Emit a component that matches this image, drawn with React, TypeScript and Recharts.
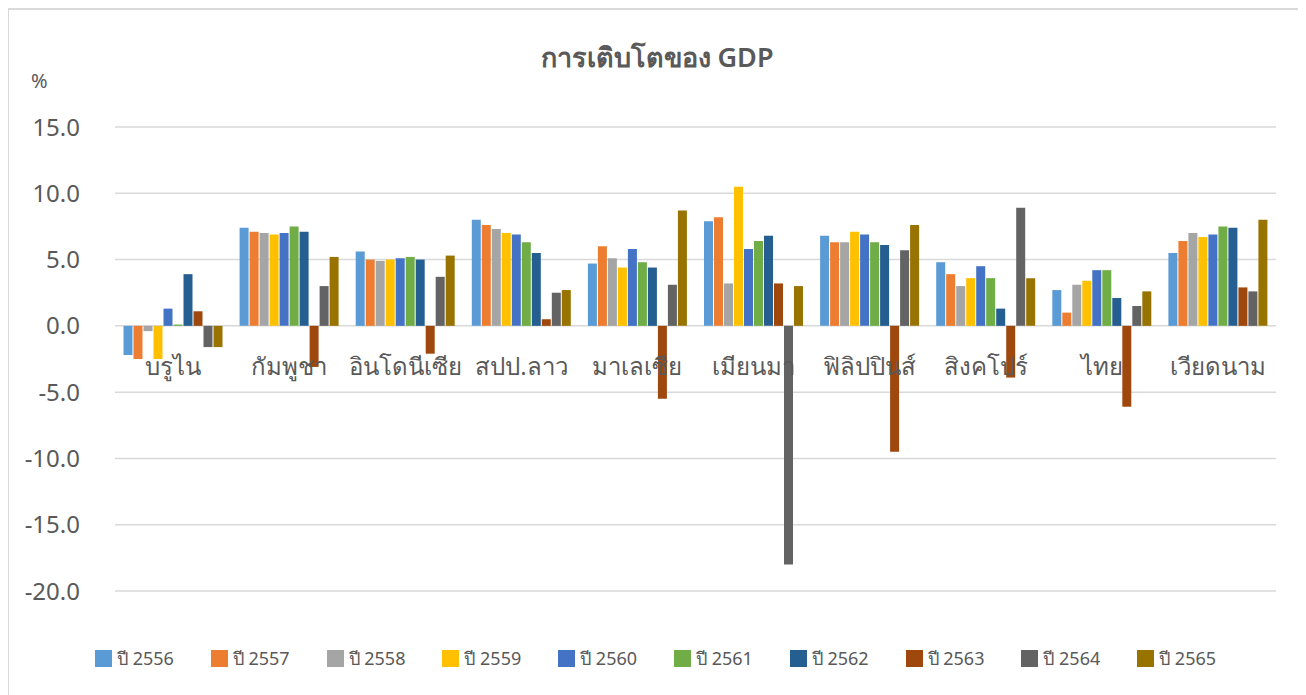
import React from "react";
import { BarChart, Bar, XAxis, YAxis, CartesianGrid, Legend } from "recharts";

const countries = ["บรูไน", "กัมพูชา", "อินโดนีเซีย", "สปป.ลาว", "มาเลเซีย", "เมียนมา", "ฟิลิปปินส์", "สิงคโปร์", "ไทย", "เวียดนาม"];

const years = ["ปี 2556", "ปี 2557", "ปี 2558", "ปี 2559", "ปี 2560", "ปี 2561", "ปี 2562", "ปี 2563", "ปี 2564", "ปี 2565"];

const y2556 = [-2.2, 7.4, 5.6, 8.0, 4.7, 7.9, 6.8, 4.8, 2.7, 5.5];
const y2557 = [-2.5, 7.1, 5.0, 7.6, 6.0, 8.2, 6.3, 3.9, 1.0, 6.4];
const y2558 = [-0.4, 7.0, 4.9, 7.3, 5.1, 3.2, 6.3, 3.0, 3.1, 7.0];
const y2559 = [-2.5, 6.9, 5.0, 7.0, 4.4, 10.5, 7.1, 3.6, 3.4, 6.7];
const y2560 = [1.3, 7.0, 5.1, 6.9, 5.8, 5.8, 6.9, 4.5, 4.2, 6.9];
const y2561 = [0.1, 7.5, 5.2, 6.3, 4.8, 6.4, 6.3, 3.6, 4.2, 7.5];
const y2562 = [3.9, 7.1, 5.0, 5.5, 4.4, 6.8, 6.1, 1.3, 2.1, 7.4];
const y2563 = [1.1, -3.1, -2.1, 0.5, -5.5, 3.2, -9.5, -3.9, -6.1, 2.9];
const y2564 = [-1.6, 3.0, 3.7, 2.5, 3.1, -18.0, 5.7, 8.9, 1.5, 2.6];
const y2565 = [-1.6, 5.2, 5.3, 2.7, 8.7, 3.0, 7.6, 3.6, 2.6, 8.0];

const seriesValues = [y2556, y2557, y2558, y2559, y2560, y2561, y2562, y2563, y2564, y2565];
const colors = ["#5B9BD5", "#ED7D31", "#A5A5A5", "#FFC000", "#4472C4", "#70AD47", "#255E91", "#9E480E", "#636363", "#997300"];
const yTicks = [-20, -15, -10, -5, 0, 5, 10, 15];

const data = countries.map((c, i) => {
  const row: Record<string, string | number> = { country: c };
  years.forEach((y, j) => {
    row[y] = seriesValues[j][i];
  });
  return row;
});

const FONT = "'Leelawadee UI', Tahoma, 'Noto Sans', 'DejaVu Sans', sans-serif";
const TEXT = "#595959";

const CategoryTick = (props: any) => {
  const { x, y, payload } = props;
  return (
    <text x={x} y={y} dy={-216} textAnchor="middle" fill={TEXT} fontSize={24} fontFamily={FONT}>
      {payload.value}
    </text>
  );
};

const LegendContent = () => (
  <div style={{ display: "flex", justifyContent: "flex-start", paddingLeft: 86, fontFamily: FONT, fontSize: 18, color: TEXT }}>
    {years.map((y, i) => (
      <div key={y} style={{ display: "flex", alignItems: "center", width: 115.8 }}>
        <span style={{ display: "inline-block", width: 17, height: 17, background: colors[i], marginRight: 5 }} />
        <span>{y}</span>
      </div>
    ))}
  </div>
);

export default function App() {
  return (
    <div
      style={{
        position: "relative",
        width: 1298,
        height: 700,
        border: "2px solid #d9d9d9",
        boxSizing: "border-box",
        marginLeft: -1,
        background: "#fff",
      }}
    >
      <div
        style={{
          position: "absolute",
          left: 4,
          width: 1288,
          top: 26,
          textAlign: "center",
          fontFamily: FONT,
          fontSize: 27,
          fontWeight: 600,
          color: TEXT,
        }}
      >
        การเติบโตของ GDP
      </div>
      <div style={{ position: "absolute", left: 22, top: 57, fontFamily: FONT, fontSize: 20, color: TEXT }}>%</div>
      <BarChart
        width={1294}
        height={696}
        data={data}
        margin={{ top: 117, right: 27, left: 0, bottom: 85 }}
        barCategoryGap={8.5}
        barGap={1}
      >
        <CartesianGrid vertical={false} stroke="#d9d9d9" strokeWidth={1.5} />
        <XAxis
          dataKey="country"
          axisLine={false}
          tickLine={false}
          tickSize={0}
          tickMargin={0}
          height={1}
          interval={0}
          tick={<CategoryTick />}
        />
        <YAxis
          domain={[-20, 15]}
          ticks={yTicks}
          allowDataOverflow
          width={106}
          axisLine={false}
          tickLine={false}
          tickSize={0}
          tickMargin={35}
          tickFormatter={(v: number) => v.toFixed(1)}
          tick={{ fill: TEXT, fontSize: 24, fontFamily: FONT }}
        />
        <Legend
          verticalAlign="bottom"
          wrapperStyle={{ position: "absolute", top: 634, left: 0, width: 1294 }}
          content={<LegendContent />}
        />
        {years.map((y, i) => (
          <Bar key={y} dataKey={y} fill={colors[i]} isAnimationActive={false} />
        ))}
      </BarChart>
    </div>
  );
}
